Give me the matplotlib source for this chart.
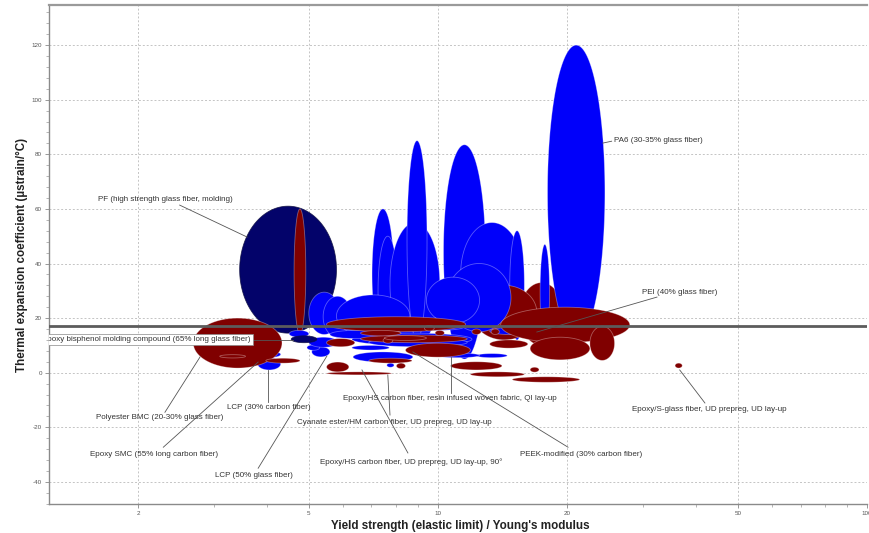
import numpy as np
import matplotlib
matplotlib.use("Agg")
import matplotlib.pyplot as plt
from matplotlib.ticker import FixedLocator, LogLocator, MultipleLocator, NullFormatter

plt.rcParams['font.family'] = ['Liberation Sans', 'DejaVu Sans']

# Material property envelopes: ranges of yield-strain ratio (x) and
# thermal expansion coefficient (y); drawn in list order.
ell_xlo = [3.45, 4.62, 15.5, 18.0, 7.02, 7.25, 7.73, 8.47, 10.3, 11.3, 14.7,
           12.0, 10.5, 9.4, 17.3, 5.0, 5.4, 5.8, 4.5, 3.85, 3.8, 5.08, 4.95,
           6.3, 6.9, 6.3, 6.34, 12.3, 13.2, 7.6, 9.9, 5.6, 5.0, 8.6,
           2.69, 3.1, 3.97, 5.5, 6.6, 8.4, 5.5, 5.5, 6.9, 8.0, 10.7, 11.9,
           14.9, 16.4, 14.0, 22.6, 16.4, 13.2, 9.3, 9.85, 12.0, 13.3, 7.45,
           5.5, 6.6, 7.5, 4.55, 35.7]
ell_xhi = [5.80, 4.92, 19.6, 24.5, 7.89, 8.05, 10.1, 9.43, 12.9, 15.8, 15.9,
           17.0, 14.8, 12.5, 18.2, 5.9, 6.3, 8.6, 5.0, 4.3, 4.3, 5.6, 5.3,
           12.0, 11.7, 7.7, 8.74, 14.5, 16.2, 7.9, 12.5, 7.4, 5.85, 11.5,
           4.33, 3.56, 4.77, 11.6, 11.7, 11.9, 6.2, 7.8, 8.7, 8.4, 14.1, 15.9,
           21.4, 17.2, 28.0, 25.8, 22.6, 16.2, 9.8, 10.35, 12.6, 13.9, 7.85,
           6.4, 8.2, 9.4, 5.22, 37.1]
ell_ylo = [14.5, 14.0, 10.0, 12.0, 12.0, 10.0, 10.0, 12.0, 5.0, 18.0, 12.0,
           12.0, 15.0, 18.0, 12.0, 14.0, 13.0, 13.0, 13.0, 5.6, 1.0, 5.8, 8.2,
           10.0, 9.5, 8.3, 3.9, 5.5, 14.0, 2.0, 5.5, 12.5, 9.3, 15.5,
           1.7, 5.4, 3.5, 15.0, 11.0, 5.7, 0.3, -0.8, 3.5, 1.5, 1.0, -1.5,
           -3.5, 0.2, 11.0, 4.5, 4.7, 9.0, 15.3, 13.6, 14.0, 14.0, 10.8,
           9.5, 13.5, 11.8, 11.0, 1.7]
ell_yhi = [61.0, 60.0, 33.0, 120.0, 60.0, 50.0, 55.0, 85.0, 83.5, 55.0, 52.0,
           32.0, 40.0, 35.0, 47.0, 29.5, 28.0, 28.5, 15.5, 7.8, 5.4, 9.5, 10.2,
           14.5, 12.7, 10.0, 7.6, 7.0, 16.5, 3.5, 7.2, 15.5, 13.0, 18.0,
           20.0, 6.6, 5.3, 20.5, 13.8, 10.8, 3.9, 0.3, 5.3, 3.5, 4.0, 0.3,
           -1.5, 2.0, 24.0, 17.0, 13.0, 12.0, 17.3, 15.5, 16.0, 16.0, 12.8,
           12.5, 15.5, 13.6, 13.5, 3.5]
ell_kind = ['n', 'r', 'r', 'b', 'b', 'b', 'b', 'b', 'b', 'b', 'b',
            'r', 'b', 'b', 'b', 'b', 'b', 'b', 'b', 'b', 'b', 'b', 'b',
            'b', 'b', 'b', 'b', 'b', 'b', 'b', 'b', 'b', 'b', 'b',
            'r', 'r', 'r', 'r', 'r', 'r', 'r', 'r', 'r', 'r', 'r', 'r',
            'r', 'r', 'r', 'r', 'r', 'r', 'r', 'r', 'r', 'r', 'r',
            'r', 'r', 'r', 'n', 'r']

kind_colors = {'n': '#03036a', 'b': '#0000fa', 'r': '#800000'}

# Labelled materials: text anchor, leader start, leader end
lab_text = ['PF (high strength glass fiber, molding)',
            'PA6 (30-35% glass fiber)',
            'PEI (40% glass fiber)',
            'Epoxy bisphenol molding compound (65% long glass fiber)',
            'Polyester BMC (20-30% glass fiber)',
            'Epoxy SMC (55% long carbon fiber)',
            'LCP (30% carbon fiber)',
            'LCP (50% glass fiber)',
            'Cyanate ester/HM carbon fiber, UD prepreg, UD lay-up',
            'Epoxy/HS carbon fiber, resin infused woven fabric, QI lay-up',
            'Epoxy/HS carbon fiber, UD prepreg, UD lay-up, 90°',
            'PEEK-modified (30% carbon fiber)',
            'Epoxy/S-glass fiber, UD prepreg, UD lay-up']
lab_x = [1.61, 25.7, 29.9, 3.66, 1.595, 1.545, 3.22, 3.02, 4.69, 6.01, 5.31, 15.5, 28.3]
lab_y = [63.6, 85.2, 29.5, 12.0, -16.3, -29.9, -12.9, -37.5, -18.1, -9.6, -32.7, -29.8, -13.3]
lead_x0 = [2.50, 24.2, 32.4, 3.71, 2.31, 2.29, 4.02, 3.81, 7.73, 10.7, 8.51, 20.1, 41.9]
lead_y0 = [61.4, 84.1, 27.7, 12.0, -14.5, -27.3, -10.7, -35.0, -15.5, -7.4, -29.4, -27.3, -11.1]
lead_x1 = [3.59, 25.4, 17.0, 4.59, 2.79, 3.81, 4.02, 5.51, 7.64, 10.7, 6.65, 8.74, 36.6]
lead_y1 = [49.7, 84.8, 14.9, 12.0, 5.8, 3.9, 1.0, 6.1, -0.8, 5.8, 1.0, 7.6, 1.0]

reference_level = 17.2

x_ticks = [2, 5, 10, 20, 50, 100]
y_ticks = [-40, -20, 0, 20, 40, 60, 80, 100, 120]

fig = plt.figure(figsize=(8.7, 5.33), dpi=100)
ax = fig.add_axes([49 / 870, 29 / 533, 818 / 870, 499 / 533])
ax.set_xscale('log')
ax.set_xlim(1.24, 100)
ax.set_ylim(-48.1, 134.7)

t = np.linspace(0, 2 * np.pi, 240)
for xlo, xhi, ylo, yhi, k in zip(ell_xlo, ell_xhi, ell_ylo, ell_yhi, ell_kind):
    lc = 0.5 * (np.log10(xlo) + np.log10(xhi))
    lw_ = 0.5 * (np.log10(xhi) - np.log10(xlo))
    xs = 10 ** (lc + lw_ * np.cos(t))
    ys = 0.5 * (ylo + yhi) + 0.5 * (yhi - ylo) * np.sin(t)
    edge = (0.05, 0.05, 0.25, 0.8) if k == 'n' else (1, 1, 1, 0.35)
    ax.fill(xs, ys, facecolor=kind_colors[k], edgecolor=edge, linewidth=0.6, zorder=2)

ax.axhline(reference_level, color='#5c5c5c', lw=2.0, zorder=4)

for i, txt in enumerate(lab_text):
    ax.plot([lead_x0[i], lead_x1[i]], [lead_y0[i], lead_y1[i]],
            color='#555555', lw=0.6, zorder=5)
    if i == 3:
        ax.text(lab_x[i], lab_y[i], txt, fontsize=5.8, color='#333333',
                ha='right', va='center', zorder=6, clip_on=True,
                bbox=dict(boxstyle='square,pad=0.25', facecolor='white',
                          edgecolor='#888888', linewidth=0.5))
    else:
        ax.text(lab_x[i], lab_y[i], txt, fontsize=5.8, color='#333333',
                ha='left', va='center', zorder=6)

ax.set_axisbelow(True)
ax.grid(which='major', linestyle=(0, (2, 2)), color='#c4c4c4', lw=0.7)

ax.xaxis.set_major_locator(FixedLocator(x_ticks))
ax.set_xticklabels([str(v) for v in x_ticks])
ax.xaxis.set_minor_locator(LogLocator(base=10, subs=np.arange(2, 10)))
ax.xaxis.set_minor_formatter(NullFormatter())
ax.yaxis.set_major_locator(FixedLocator(y_ticks))
ax.set_yticklabels([str(v) for v in y_ticks])
ax.yaxis.set_minor_locator(MultipleLocator(4))

ax.tick_params(which='major', length=3, width=0.6, color='#888888',
               labelsize=4.5, labelcolor='#555555', pad=2)
ax.tick_params(which='minor', length=2, width=0.5, color='#999999')

for s in ['left', 'bottom']:
    ax.spines[s].set_color('#8a8a8a')
    ax.spines[s].set_linewidth(1.0)
ax.spines['top'].set_color('#9a9a9a')
ax.spines['top'].set_linewidth(1.6)
ax.spines['right'].set_visible(False)

ax.set_xlabel("Yield strength (elastic limit) / Young's modulus",
              fontsize=8.4, fontweight='bold', color='#222222')
ax.set_ylabel("Thermal expansion coefficient (µstrain/°C)",
              fontsize=8.4, fontweight='bold', color='#222222')
ax.xaxis.set_label_coords(0.503, -0.032)
ax.yaxis.set_label_coords(-0.026, 0.5)

fig.savefig('out.png', dpi=100)
